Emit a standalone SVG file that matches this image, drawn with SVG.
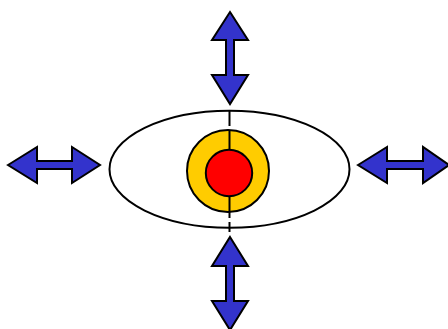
<svg xmlns="http://www.w3.org/2000/svg" width="448" height="329" viewBox="0 0 448 329">
<style>
.arrow{fill:#3333CC;stroke:#000;stroke-width:2;stroke-linejoin:miter}
.shape{stroke:#000;stroke-width:2}
.axis{stroke:#000;stroke-width:2;fill:none}
</style>
<rect width="448" height="329" fill="#fff"/>
<g id="ellipse"><ellipse class="shape" cx="229.5" cy="169.2" rx="120" ry="58.5" fill="#fff"/></g>
<g id="outer-circle"><circle class="shape" cx="228" cy="171" r="41" fill="#FFCC00"/></g>
<g id="connectors">
<line class="axis" x1="229.5" y1="111" x2="229.5" y2="126"/>
<line class="axis" x1="229.5" y1="131" x2="229.5" y2="150"/>
<line class="axis" x1="229.5" y1="196" x2="229.5" y2="218"/>
<line class="axis" x1="229.5" y1="222" x2="229.5" y2="232"/>
</g>
<g id="inner-circle"><circle class="shape" cx="229" cy="173" r="23.2" fill="#FF0000"/></g>
<g id="arrow-top"><polygon class="arrow" points="230,12 248,40 234,40 234,75 248,75 230,104 212,75 226,75 226,40 212,40"/></g>
<g id="arrow-bottom"><polygon class="arrow" points="230,237 248,266 234,266 234,301 248,301 230,330 212,301 226,301 226,266 212,266"/></g>
<g id="arrow-left"><polygon class="arrow" points="8,165 37,147 37,161 72,161 72,147 100,165 72,183 72,169 37,169 37,183"/></g>
<g id="arrow-right"><polygon class="arrow" points="358,165 387,147 387,161 423,161 423,147 449,165 423,183 423,169 387,169 387,183"/></g>
</svg>
